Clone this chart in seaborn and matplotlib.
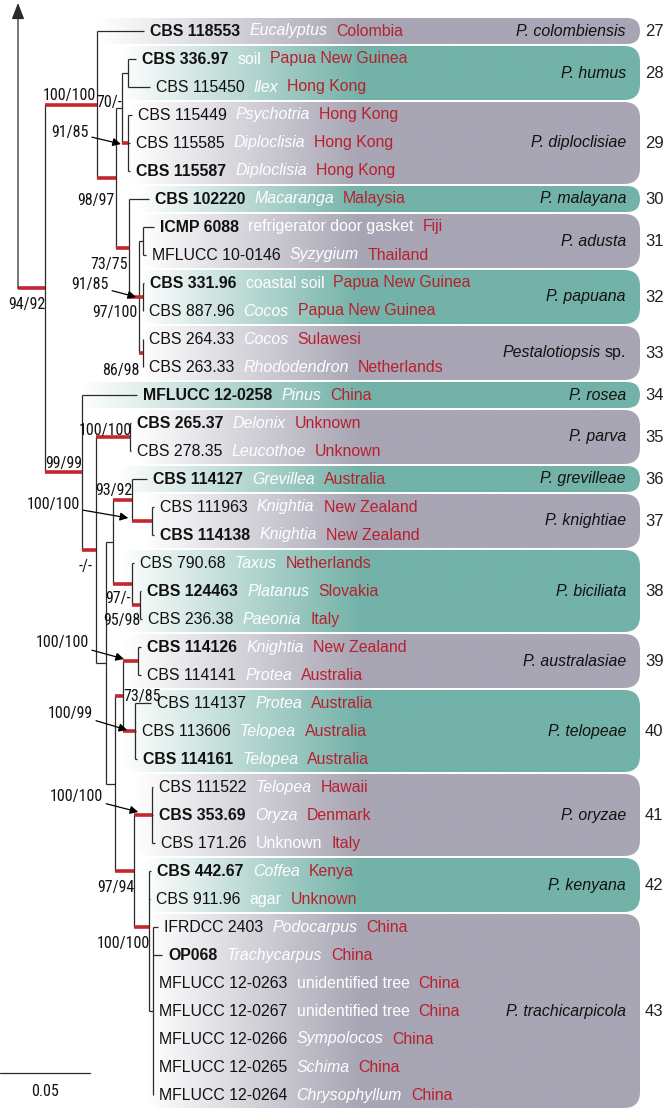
import numpy as np
import pandas as pd
import matplotlib
matplotlib.use("Agg")
import matplotlib.pyplot as plt
import seaborn as sns
from matplotlib.patches import FancyBboxPatch
from matplotlib import font_manager as fm
from matplotlib.colors import to_rgb

# ------------------------------------------------------------------ data
strains = ["CBS 118553", "CBS 336.97", "CBS 115450", "CBS 115449", "CBS 115585", "CBS 115587",
           "CBS 102220", "ICMP 6088", "MFLUCC 10-0146", "CBS 331.96", "CBS 887.96", "CBS 264.33",
           "CBS 263.33", "MFLUCC 12-0258", "CBS 265.37", "CBS 278.35", "CBS 114127", "CBS 111963",
           "CBS 114138", "CBS 790.68", "CBS 124463", "CBS 236.38", "CBS 114126", "CBS 114141",
           "CBS 114137", "CBS 113606", "CBS 114161", "CBS 111522", "CBS 353.69", "CBS 171.26",
           "CBS 442.67", "CBS 911.96", "IFRDCC 2403", "OP068", "MFLUCC 12-0263", "MFLUCC 12-0267",
           "MFLUCC 12-0266", "MFLUCC 12-0265", "MFLUCC 12-0264"]
type_strain = [1, 1, 0, 0, 0, 1, 1, 1, 0, 1, 0, 0, 0, 1, 1, 0, 1, 0, 1, 0, 1, 0, 1, 0,
               0, 0, 1, 0, 1, 0, 1, 0, 0, 1, 0, 0, 0, 0, 0]
hosts = ["Eucalyptus", "soil", "Ilex", "Psychotria", "Diploclisia", "Diploclisia", "Macaranga",
         "refrigerator door gasket", "Syzygium", "coastal soil", "Cocos", "Cocos", "Rhododendron",
         "Pinus", "Delonix", "Leucothoe", "Grevillea", "Knightia", "Knightia", "Taxus", "Platanus",
         "Paeonia", "Knightia", "Protea", "Protea", "Telopea", "Telopea", "Telopea", "Oryza",
         "Unknown", "Coffea", "agar", "Podocarpus", "Trachycarpus", "unidentified tree",
         "unidentified tree", "Sympolocos", "Schima", "Chrysophyllum"]
host_italic = [1, 0, 1, 1, 1, 1, 1, 0, 1, 0, 1, 1, 1, 1, 1, 1, 1, 1, 1, 1, 1, 1, 1, 1,
               1, 1, 1, 1, 1, 0, 1, 0, 1, 1, 0, 0, 1, 1, 1]
countries = ["Colombia", "Papua New Guinea", "Hong Kong", "Hong Kong", "Hong Kong", "Hong Kong",
             "Malaysia", "Fiji", "Thailand", "Papua New Guinea", "Papua New Guinea", "Sulawesi",
             "Netherlands", "China", "Unknown", "Unknown", "Australia", "New Zealand",
             "New Zealand", "Netherlands", "Slovakia", "Italy", "New Zealand", "Australia",
             "Australia", "Australia", "Australia", "Hawaii", "Denmark", "Italy", "Kenya",
             "Unknown", "China", "China", "China", "China", "China", "China", "China"]
leaf_parent = ["U0", "hum", "hum", "dip", "dip", "dip", "U3", "adu", "adu", "pap", "pap", "sp",
               "sp", "L0", "par", "par", "K93", "kni", "kni", "bic", "bic2", "bic2", "aus", "aus",
               "tel", "tel", "tel", "ory", "ory", "ory", "K", "K", "tra", "tra", "tra", "tra",
               "tra", "tra", "tra"]
leaf_length = [0.0261, 0.0044, 0.0122, 0.0022, 0.0011, 0.0011, 0.0111, 0.0061, 0.0017, 0.0006,
               0.0, 0.0, 0.0, 0.0306, 0.0006, 0.0006, 0.0083, 0.0011, 0.0011, 0.0011, 0.0006,
               0.0011, 0.0017, 0.0017, 0.0089, 0.0006, 0.0011, 0.0006, 0.0006, 0.0017, 0.0011,
               0.0006, 0.0028, 0.0050, 0.0, 0.0, 0.0, 0.0, 0.0]

node_ids = ["N", "U0", "U1", "U2", "hum", "dip", "U3", "U4", "adu", "pap", "sp", "L0", "L1",
            "par", "L2", "L3", "K93", "kni", "bic", "bic2", "L4", "AT", "aus", "tel", "OK",
            "ory", "K", "tra"]
node_parent = ["R", "N", "U0", "U1", "U2", "U2", "U1", "U3", "U4", "U4", "U4", "N", "L0",
               "L1", "L1", "L2", "L3", "K93", "L3", "bic", "L2", "L4", "AT", "AT", "L4",
               "OK", "OK", "K"]
node_length = [0.0150, 0.0289, 0.0106, 0.0033, 0.0033, 0.0033, 0.0072, 0.0056, 0.0022, 0.0022,
               0.0022, 0.0206, 0.0078, 0.0189, 0.0056, 0.0039, 0.0106, 0.0111, 0.0106, 0.0044,
               0.0050, 0.0044, 0.0083, 0.0067, 0.0106, 0.0100, 0.0083, 0.0022]
node_support = ["94/92", "100/100", "98/97", "70/-", "", "91/85", "73/75", "91/85", "",
                "97/100", "86/98", "99/99", "-/-", "100/100", "", "", "93/92", "100/100",
                "97/-", "95/98", "", "73/85", "100/100", "100/99", "97/94", "100/100",
                "100/100", ""]
node_significant = [1, 1, 1, 0, 0, 1, 1, 1, 0, 1, 1, 1, 1, 1, 0, 0, 1, 1, 1, 1, 0, 1, 1, 1,
                    1, 1, 1, 0]

clade_numbers = [27, 28, 29, 30, 31, 32, 33, 34, 35, 36, 37, 38, 39, 40, 41, 42, 43]
clade_names = ["P. colombiensis", "P. humus", "P. diploclisiae", "P. malayana", "P. adusta",
               "P. papuana", "Pestalotiopsis sp.", "P. rosea", "P. parva", "P. grevilleae",
               "P. knightiae", "P. biciliata", "P. australasiae", "P. telopeae", "P. oryzae",
               "P. kenyana", "P. trachicarpicola"]
clade_first = [0, 1, 3, 6, 7, 9, 11, 13, 14, 16, 17, 19, 22, 24, 27, 30, 32]
clade_last = [0, 2, 5, 6, 8, 10, 12, 13, 15, 16, 18, 21, 23, 26, 29, 31, 38]
clade_shade = ["gray", "teal", "gray", "teal", "gray", "teal", "gray", "teal", "gray", "teal",
               "gray", "teal", "gray", "teal", "gray", "teal", "gray"]

scale_length = 0.05

# ------------------------------------------------------------------ layout / style
W, H = 666, 1111
PX_PER_UNIT = 1800.0
ROOT_PX, ROW0_PX, ROW_PX = 18.0, 31.0, 28.0
box_left_px = [97, 120, 130, 137, 140, 138, 140, 80, 133, 117, 143, 120, 123, 122, 133, 143, 145]
BOX_RIGHT_PX = 640
GRAD_END_PX = 360
shade_colours = {"gray": "#A8A5B4", "teal": "#73B2A8"}
RED = "#B8202E"
LINE = "#2a2a2a"
BRANCH_RED = "#C1272D"

# support label offsets (px) relative to node: (dx, dy, arrow tip offset or None)
label_layout = {
    "N": (-18, 16, None), "U0": (-28, -9, None), "U2": (-13, -5, None),
    "dip": (-58, -11, (-7, 1)), "U1": (-20, 22, None), "U3": (-20, 17, None),
    "U4": (-49, -12, (-3, 0)), "pap": (-28, 16, None), "sp": (-22, 17, None),
    "L0": (-18, -9, None), "L1": (-10, 17, None), "par": (-25, -7, None),
    "K93": (-18, -10, None), "kni": (-99, -16, (-24, -3)), "bic": (-14, 15, None),
    "bic2": (-18, 15, None), "aus": (-76, -19, (-14, -2)), "AT": (19, 1, None),
    "tel": (-65, -18, (-8, -1)), "ory": (-76, -19, (-14, -3)), "OK": (-18, 16, None),
    "K": (-26, 16, None),
}


def X(px):
    return (px - ROOT_PX) / PX_PER_UNIT


def Y(py):
    return (py - ROW0_PX) / ROW_PX


def DX(px):
    return px / PX_PER_UNIT


def DY(py):
    return py / ROW_PX


sns.set_theme(style="white")
plt.rcParams["font.family"] = ["Liberation Sans", "DejaVu Sans"]

avail = {f.name for f in fm.fontManager.ttflist}
narrow_font, narrow_size = None, 9.8
for cand in ["Liberation Sans Narrow", "Arial Narrow", "DejaVu Sans Condensed",
             "Roboto Condensed", "Open Sans Condensed"]:
    if cand in avail:
        narrow_font, narrow_size = cand, 11.5
        break
if narrow_font is None:
    narrow_font = "Liberation Sans"

fig = plt.figure(figsize=(W / 100, H / 100), dpi=100)
ax = fig.add_axes([0, 0, 1, 1])

# ------------------------------------------------------------------ tree geometry
xpos = {"R": 0.0}
for nid, par, bl in zip(node_ids, node_parent, node_length):
    xpos[nid] = xpos[par] + bl
children = {}
for nid, par in zip(node_ids, node_parent):
    children.setdefault(par, []).append(nid)
for i, par in enumerate(leaf_parent):
    children.setdefault(par, []).append(i)
ypos = {}


def gety(n):
    if isinstance(n, int):
        return float(n)
    if n not in ypos:
        ypos[n] = float(np.mean([gety(c) for c in children[n]]))
    return ypos[n]


for n in ["R"] + node_ids:
    gety(n)
leaf_x = [xpos[p] + l for p, l in zip(leaf_parent, leaf_length)]

rows = []
seg = 0


def add(x0, y0, x1, y1, kind):
    global seg
    rows.append((seg, x0, y0, kind))
    rows.append((seg, x1, y1, kind))
    seg += 1


for nid, par, sig in zip(node_ids, node_parent, node_significant):
    add(xpos[par], ypos[nid], xpos[nid], ypos[nid], "support" if sig else "plain")
for i, (p, lx) in enumerate(zip(leaf_parent, leaf_x)):
    add(xpos[p], i, lx, i, "plain")
for n in node_ids:
    ys = [gety(c) for c in children[n]]
    add(xpos[n], min(ys), xpos[n], max(ys), "plain")
seg_df = pd.DataFrame(rows, columns=["seg", "x", "y", "kind"])

# ------------------------------------------------------------------ clade boxes
for k in range(len(clade_numbers)):
    top = clade_first[k] - 0.5 + DY(1)
    bot = clade_last[k] + 0.5 - DY(1)
    left, right = X(box_left_px[k]), X(BOX_RIGHT_PX)
    hpx = (bot - top) * ROW_PX
    r = DX(min(16, hpx / 2))
    patch = FancyBboxPatch((left, top), right - left, bot - top,
                           boxstyle=f"round,pad=0,rounding_size={r}",
                           mutation_aspect=PX_PER_UNIT / ROW_PX,
                           facecolor="none", edgecolor="none", zorder=0)
    ax.add_patch(patch)
    n = 400
    xs = np.linspace(left, right, n)
    alpha = np.clip((xs - left) / (X(GRAD_END_PX) - left), 0, 1)
    rgba = np.zeros((2, n, 4))
    rgba[..., :3] = to_rgb(shade_colours[clade_shade[k]])
    rgba[..., 3] = alpha
    im = ax.imshow(rgba, extent=(left, right, bot, top), aspect="auto",
                   interpolation="bilinear", zorder=0)
    im.set_clip_path(patch)

# ------------------------------------------------------------------ branches
sns.lineplot(data=seg_df, x="x", y="y", units="seg", estimator=None, sort=False,
             hue="kind", hue_order=["plain", "support"],
             palette={"plain": LINE, "support": BRANCH_RED},
             size="kind", size_order=["plain", "support"],
             sizes={"plain": 0.9, "support": 2.6},
             legend=False, ax=ax, zorder=2, solid_capstyle="butt")

# outgroup arrow
ax.annotate("", xy=(0, Y(3)), xytext=(0, ypos["N"]),
            arrowprops=dict(arrowstyle="-|>,head_length=0.9,head_width=0.35", color=LINE,
                            lw=0.9, shrinkA=0, shrinkB=0, mutation_scale=11), zorder=2)

ax.set_xlim(X(0), X(W))
ax.set_ylim(Y(H), Y(0))
ax.set_aspect("auto")
ax.axis("off")

renderer = fig.canvas.get_renderer()

# ------------------------------------------------------------------ leaf labels
FS = 11.4
for i in range(len(strains)):
    x = leaf_x[i] + DX(6)
    t = ax.text(x, i, strains[i], fontsize=FS, color="#111111",
                fontweight="bold" if type_strain[i] else "normal",
                ha="left", va="center", zorder=3)
    x += DX(t.get_window_extent(renderer).width + 9)
    t = ax.text(x, i, hosts[i], fontsize=FS, color="white",
                style="italic" if host_italic[i] else "normal",
                ha="left", va="center", zorder=3)
    x += DX(t.get_window_extent(renderer).width + 9)
    ax.text(x, i, countries[i], fontsize=FS, color=RED, ha="left", va="center", zorder=3)

# ------------------------------------------------------------------ clade names / numbers
for k in range(len(clade_numbers)):
    yc = (clade_first[k] + clade_last[k]) / 2
    name = clade_names[k]
    if name.endswith(" sp."):
        t = ax.text(X(626), yc, "sp.", fontsize=FS, color="#111111", ha="right",
                    va="center", zorder=3)
        w = t.get_window_extent(renderer).width
        ax.text(X(626) - DX(w + 4), yc, name[:-4], fontsize=FS, style="italic",
                color="#111111", ha="right", va="center", zorder=3)
    else:
        ax.text(X(626), yc, name, fontsize=FS, style="italic", color="#111111",
                ha="right", va="center", zorder=3)
    ax.text(X(645), yc, str(clade_numbers[k]), fontsize=12, color="#222222",
            ha="left", va="center", zorder=3)

# ------------------------------------------------------------------ support values
for nid, sup in zip(node_ids, node_support):
    if not sup:
        continue
    dxp, dyp, tip = label_layout[nid]
    nx, ny = xpos[nid], ypos[nid]
    pos = (nx + DX(dxp), ny + DY(dyp))
    if tip is None:
        ax.text(*pos, sup, fontsize=narrow_size, family=narrow_font, color="#111111",
                ha="center", va="center", zorder=3)
    else:
        ax.annotate(sup, xy=(nx + DX(tip[0]), ny + DY(tip[1])), xytext=pos,
                    fontsize=narrow_size, family=narrow_font, color="#111111",
                    ha="center", va="center", zorder=3,
                    arrowprops=dict(arrowstyle="-|>", color="black", lw=0.9,
                                    shrinkA=0, shrinkB=0, mutation_scale=12))

# ------------------------------------------------------------------ scale bar
ax.plot([X(0), X(0) + scale_length], [Y(1073), Y(1073)], color=LINE, lw=0.9)
ax.text(X(0) + scale_length / 2, Y(1091), f"{scale_length:.2f}", fontsize=narrow_size,
        family=narrow_font, color="#111111", ha="center", va="center")

fig.savefig("out.png", dpi=100)
